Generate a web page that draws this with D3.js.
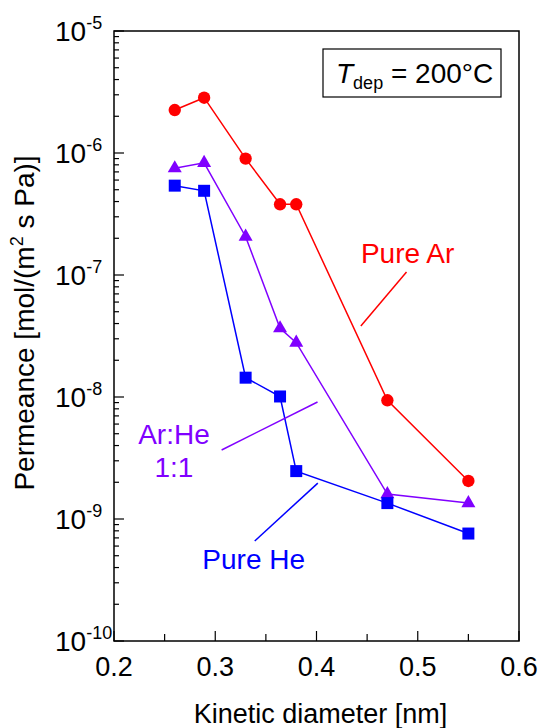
<!DOCTYPE html>
<html>
<head>
<meta charset="utf-8">
<script src="https://cdn.jsdelivr.net/npm/d3@7"></script>
<style>
  body { margin: 0; background: #fff; }
  text { font-family: "Liberation Sans", Arial, sans-serif; }
</style>
</head>
<body>
<div class="chart"></div>
<script>
// kinetic diameter of the probe gases [nm]
var diameters = [0.26, 0.289, 0.33, 0.364, 0.38, 0.47, 0.55];

// permeance [mol/(m2 s Pa)]
var pureAr = [2.25e-6, 2.84e-6, 9.0e-7, 3.8e-7, 3.8e-7, 9.4e-9, 2.05e-9];
var mixArHe = [7.5e-7, 8.3e-7, 2.06e-7, 3.66e-8, 2.79e-8, 1.6e-9, 1.35e-9];
var pureHe = [5.4e-7, 4.9e-7, 1.44e-8, 1.01e-8, 2.47e-9, 1.35e-9, 7.6e-10];

var xTicks = [0.2, 0.3, 0.4, 0.5, 0.6];
var yExponents = [-5, -6, -7, -8, -9, -10];

var width = 541, height = 728;
var margin = {top: 31, right: 22, bottom: 87, left: 114};
var w = width - margin.left - margin.right,
    h = height - margin.top - margin.bottom;

var x = d3.scaleLinear().domain([0.2, 0.6]).range([0, w]);
var y = d3.scaleLog().domain([1e-10, 1e-5]).range([h, 0]);

var svg = d3.select('.chart').append('svg')
    .attr('width', width)
    .attr('height', height)
  .append('g')
    .attr('transform', 'translate(' + margin.left + ',' + margin.top + ')');

// frame
svg.append('rect')
    .attr('width', w).attr('height', h)
    .attr('fill', 'none').attr('stroke', '#000').attr('stroke-width', 1.5);

// x ticks (inside), minor every 0.05
var xMinor = d3.range(0.25, 0.6, 0.1);
svg.selectAll('line.xmaj').data(xTicks).enter().append('line')
    .attr('x1', x).attr('x2', x)
    .attr('y1', h).attr('y2', h - 10)
    .attr('stroke', '#000').attr('stroke-width', 1.2);
svg.selectAll('line.xmin').data(xMinor).enter().append('line')
    .attr('x1', x).attr('x2', x)
    .attr('y1', h).attr('y2', h - 7)
    .attr('stroke', '#000').attr('stroke-width', 1.2);

svg.selectAll('text.xlab').data(xTicks).enter().append('text')
    .attr('x', x).attr('y', h + 35)
    .attr('text-anchor', 'middle')
    .attr('font-size', 27)
    .text(function(d) { return d.toFixed(1); });

// y ticks (inside), log minors 2..9
var yMinor = [];
yExponents.forEach(function(e) {
  if (e < -5) for (var k = 2; k < 10; k++) yMinor.push(k * Math.pow(10, e));
});
svg.selectAll('line.ymaj').data(yExponents).enter().append('line')
    .attr('x1', 0).attr('x2', 10)
    .attr('y1', function(e) { return y(Math.pow(10, e)); })
    .attr('y2', function(e) { return y(Math.pow(10, e)); })
    .attr('stroke', '#000').attr('stroke-width', 1.2);
svg.selectAll('line.ymin').data(yMinor).enter().append('line')
    .attr('x1', 0).attr('x2', 5)
    .attr('y1', y).attr('y2', y)
    .attr('stroke', '#000').attr('stroke-width', 1.2);

var ylab = svg.selectAll('text.ylab').data(yExponents).enter().append('text')
    .attr('x', -59)
    .attr('y', function(e) { return y(Math.pow(10, e)) + 10; })
    .attr('font-size', 28);
ylab.append('tspan').text('10');
ylab.append('tspan').attr('dy', -12).attr('font-size', 18)
    .text(function(e) { return String(e); });

// axis titles
svg.append('text')
    .attr('x', w / 2 + 4).attr('y', h + 82)
    .attr('text-anchor', 'middle')
    .attr('font-size', 27)
    .text('Kinetic diameter [nm]');

var yt = svg.append('text')
    .attr('transform', 'translate(' + (-80) + ',' + (h / 2 - 13) + ') rotate(-90)')
    .attr('text-anchor', 'middle')
    .attr('font-size', 28);
yt.append('tspan').text('Permeance [mol/(m');
yt.append('tspan').attr('dy', -11).attr('font-size', 18).text('2');
yt.append('tspan').attr('dy', 11).text(' s Pa)]');

// series
var series = [
  {name: 'Ar', values: pureAr, color: '#ff0000', symbol: d3.symbolCircle, size: 120},
  {name: 'ArHe', values: mixArHe, color: '#8000ff', symbol: d3.symbolTriangle, size: 85},
  {name: 'He', values: pureHe, color: '#0000ff', symbol: d3.symbolSquare, size: 144}
];

var line = d3.line()
    .x(function(d) { return x(d[0]); })
    .y(function(d) { return y(d[1]); });

series.forEach(function(s) {
  var pts = diameters.map(function(d, i) { return [d, s.values[i]]; });

  svg.append('path')
      .attr('d', line(pts))
      .attr('fill', 'none')
      .attr('stroke', s.color)
      .attr('stroke-width', 1.5);

  svg.selectAll('path.m' + s.name).data(pts).enter().append('path')
      .attr('d', d3.symbol().type(s.symbol).size(s.size))
      .attr('transform', function(d) { return 'translate(' + x(d[0]) + ',' + y(d[1]) + ')'; })
      .attr('fill', s.color);
});

// labels and leader lines, in data units
var labels = [
  {lines: ['Pure Ar'], at: [0.49, 1.26e-7], color: '#ff0000', lead: [[0.4889, 1.06e-7], [0.4438, 3.82e-8]]},
  {lines: ['Ar:He', '1:1'], at: [0.2592, 4.09e-9], color: '#8000ff', lead: [[0.3063, 3.68e-9], [0.401, 9.1e-9]]},
  {lines: ['Pure He'], at: [0.338, 3.87e-10], color: '#0000ff', lead: [[0.339, 6.6e-10], [0.4013, 1.97e-9]]}
];

labels.forEach(function(l) {
  svg.append('path')
      .attr('d', line(l.lead))
      .attr('stroke', l.color)
      .attr('stroke-width', 1.5)
      .attr('fill', 'none');

  l.lines.forEach(function(t, i) {
    svg.append('text')
        .attr('x', x(l.at[0]))
        .attr('y', y(l.at[1]) + i * 33)
        .attr('text-anchor', 'middle')
        .attr('font-size', 28)
        .attr('fill', l.color)
        .text(t);
  });
});

// deposition temperature box
var box = svg.append('g').attr('transform', 'translate(' + (323 - margin.left) + ',' + (49 - margin.top) + ')');
box.append('rect')
    .attr('width', 178).attr('height', 48)
    .attr('fill', '#fff').attr('stroke', '#000').attr('stroke-width', 1.2);
var bt = box.append('text')
    .attr('x', 13).attr('y', 34)
    .attr('font-size', 28);
bt.append('tspan').attr('font-style', 'italic').text('T');
bt.append('tspan').attr('dy', 6).attr('font-size', 18).text('dep');
bt.append('tspan').attr('dy', -6).text(' = 200\u00b0C');
</script>
</body>
</html>
